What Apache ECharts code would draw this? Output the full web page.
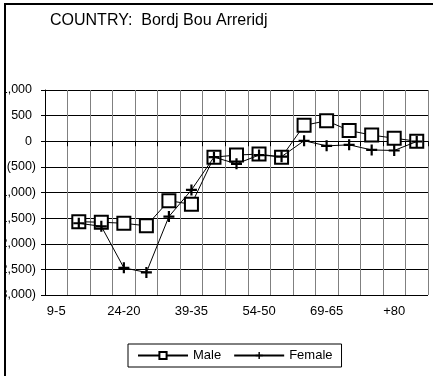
<!DOCTYPE html>
<html>
<head>
<meta charset="utf-8">
<script src="https://cdn.jsdelivr.net/npm/echarts@6/dist/echarts.min.js"></script>
<style>
html,body{margin:0;padding:0;background:#fff;}
#chart{width:442px;height:376px;}
</style>
</head>
<body>
<div id="chart"></div>
<script>
var titleText = 'COUNTRY:  Bordj Bou Arreridj';
var categories = ['9-5','14-10','19-15','24-20','29-25','34-30','39-35','44-40','49-45','54-50','59-55','64-60','69-65','74-70','79-75','+80',''];
var male   = [null, -1570, -1580, -1600, -1650, -1160, -1230, -310, -270, -250, -310, 310, 400, 210, 120, 60, 0];
var female = [null, -1600, -1660, -2470, -2560, -1470, -950, -310, -440, -270, -300, 10, -90, -70, -170, -180, -5];
var yTickValues = [1000, 500, 0, -500, -1000, -1500, -2000, -2500, -3000];
var yTickLabels = ['1,000', '500', '0', '(500)', '(1,000)', '(1,500)', '(2,000)', '(2,500)', '(3,000)'];

var FONT = '"Liberation Sans", Arial, sans-serif';
var chart = echarts.init(document.getElementById('chart'), null, {renderer: 'canvas'});
chart.setOption({
  animation: false,
  backgroundColor: '#fff',
  title: {
    text: titleText, left: 45, top: 8, padding: 5,
    textStyle: {fontFamily: FONT, fontSize: 16, fontWeight: 'normal', color: '#000'}
  },
  grid: {left: 45, right: 14, top: 90, bottom: 81, containLabel: false, outerBoundsMode: 'none'},
  legend: {
    left: 128, top: 344, padding: [5, 9], itemGap: 12,
    itemWidth: 50, itemHeight: 9,
    borderColor: '#000', borderWidth: 1, borderRadius: 0,
    textStyle: {fontFamily: FONT, fontSize: 13, color: '#000'},
    data: ['Male', 'Female']
  },
  xAxis: {
    type: 'category', data: categories, boundaryGap: true,
    axisLine: {show: true, lineStyle: {color: '#000', width: 1}},
    axisTick: {show: true, interval: 0, length: 5, lineStyle: {color: '#000'}},
    splitLine: {show: true, interval: 0, lineStyle: {color: '#808080', width: 1}},
    axisLabel: {interval: 2, margin: 10, fontFamily: FONT, fontSize: 13, color: '#000'}
  },
  yAxis: {
    type: 'value', min: -3000, max: 1000, interval: 500,
    axisLine: {show: true, lineStyle: {color: '#000', width: 1}},
    axisTick: {show: true, length: 4, lineStyle: {color: '#000'}},
    splitLine: {show: true, lineStyle: {color: '#000', width: 1}},
    axisLabel: {
      margin: 9, fontFamily: FONT, fontSize: 12.5, color: '#000',
      formatter: function (v) {
        var i = yTickValues.indexOf(v);
        if (i < 0) return '';
        var s = yTickLabels[i];
        return v >= 0 ? '{p|' + s + '}' : s;
      },
      rich: {p: {fontFamily: FONT, fontSize: 12.5, color: '#000', padding: [0, 4, 0, 0]}}
    }
  },
  series: [
    {
      name: 'Male', type: 'line', data: male,
      symbol: 'emptyRect', symbolSize: 13, showAllSymbol: true,
      lineStyle: {color: '#000', width: 1},
      itemStyle: {color: '#000', borderColor: '#000', borderWidth: 2},
      z: 3
    },
    {
      name: 'Female', type: 'line', data: female,
      symbol: 'path://M4,0h2v4h4v2h-4v4h-2v-4h-4v-2h4z', symbolSize: 11, showAllSymbol: true,
      lineStyle: {color: '#000', width: 1},
      itemStyle: {color: '#000', borderWidth: 0},
      z: 4
    }
  ],
  graphic: [
    {type: 'rect', left: 0, top: 0, z: 100, shape: {width: 4, height: 376}, style: {fill: '#fff'}},
    {type: 'rect', left: 4, top: 3, z: 101, shape: {width: 2, height: 373}, style: {fill: '#000'}},
    {type: 'rect', left: 4, top: 3, z: 101, shape: {width: 429, height: 2}, style: {fill: '#000'}}
  ]
});
</script>
</body>
</html>
